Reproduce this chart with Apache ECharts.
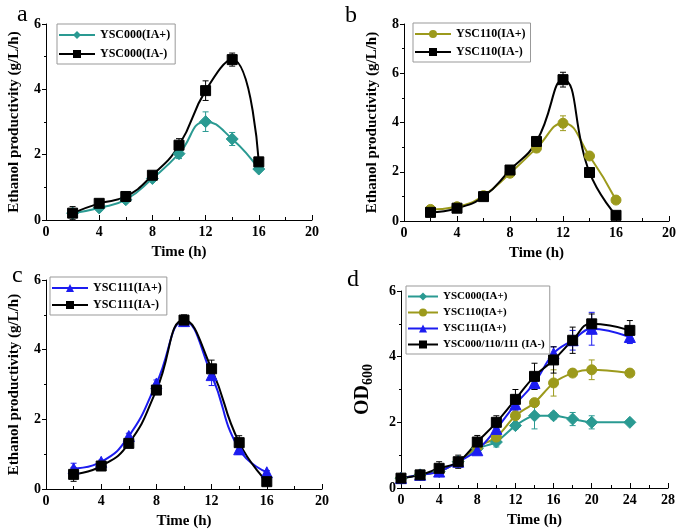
<!DOCTYPE html>
<html><head><meta charset="utf-8">
<script src="https://cdn.jsdelivr.net/npm/echarts@6/dist/echarts.min.js"></script>
<style>html,body{margin:0;padding:0;background:#fff}#c{width:685px;height:531px}</style>
</head><body><div id="c"></div>
<script>
// ---- data ----
const timeABC = [2, 4, 6, 8, 10, 12, 14, 16];
const timeD = [0, 2, 4, 6, 8, 10, 12, 14, 16, 18, 20, 24];

const a_ysc000_p = [0.21, 0.37, 0.62, 1.27, 2.03, 3.01, 2.48, 1.56];
const a_ysc000_p_err = [0.1, 0.05, 0.05, 0.08, 0.15, 0.3, 0.2, 0.05];
const a_ysc000_m = [0.21, 0.51, 0.72, 1.37, 2.29, 3.96, 4.91, 1.78];
const a_ysc000_m_err = [0.2, 0.05, 0.05, 0.08, 0.2, 0.3, 0.2, 0.05];

const b_ysc110_p = [0.47, 0.58, 1.03, 1.94, 2.96, 3.97, 2.64, 0.85];
const b_ysc110_p_err = [0.1, 0.05, 0.08, 0.1, 0.15, 0.3, 0.1, 0.05];
const b_ysc110_m = [0.35, 0.52, 0.99, 2.07, 3.23, 5.74, 1.97, 0.23];
const b_ysc110_m_err = [0.1, 0.05, 0.08, 0.1, 0.15, 0.3, 0.1, 0.05];

const c_ysc111_p = [0.59, 0.78, 1.52, 3.03, 4.82, 3.27, 1.14, 0.48];
const c_ysc111_p_err = [0.15, 0.05, 0.08, 0.1, 0.15, 0.3, 0.15, 0.05];
const c_ysc111_m = [0.42, 0.66, 1.31, 2.84, 4.85, 3.45, 1.33, 0.21];
const c_ysc111_m_err = [0.2, 0.05, 0.08, 0.1, 0.15, 0.25, 0.2, 0.05];

const d_ysc000_p = [0.3, 0.4, 0.5, 0.8, 1.2, 1.4, 1.9, 2.2, 2.2, 2.1, 2.0, 2.0];
const d_ysc000_p_err = [0.05, 0.05, 0.1, 0.1, 0.1, 0.15, 0.1, 0.4, 0.1, 0.2, 0.2, 0.05];
const d_ysc110_p = [0.3, 0.4, 0.5, 0.8, 1.25, 1.55, 2.2, 2.6, 3.2, 3.5, 3.6, 3.5];
const d_ysc110_p_err = [0.05, 0.05, 0.1, 0.1, 0.1, 0.15, 0.1, 0.1, 0.4, 0.1, 0.3, 0.05];
const d_ysc111_p = [0.3, 0.4, 0.5, 0.8, 1.15, 1.8, 2.55, 3.2, 4.1, 4.5, 4.85, 4.6];
const d_ysc111_p_err = [0.05, 0.1, 0.1, 0.1, 0.1, 0.15, 0.2, 0.2, 0.2, 0.3, 0.5, 0.2];
const d_all_m = [0.3, 0.4, 0.6, 0.8, 1.4, 2.0, 2.7, 3.4, 3.9, 4.5, 5.0, 4.8];
const d_all_m_err = [0.05, 0.05, 0.2, 0.2, 0.2, 0.2, 0.3, 0.4, 0.4, 0.4, 0.3, 0.3];

const xTicksABC = {min: 0, max: 20, interval: 4};
const xTicksD = {min: 0, max: 28, interval: 4};
// ---- style ----
const TEAL = '#2a9a92', OLIVE = '#9c9a1c', BLUE = '#1c1cf0', BLACK = '#000';
const FONT = '"Liberation Serif", "Times New Roman", serif';

const grids = [
  {left: 46, top: 24, width: 266, height: 196},
  {left: 404, top: 24, width: 265, height: 197},
  {left: 46, top: 280, width: 276, height: 209},
  {left: 401, top: 291, width: 267, height: 197}
];

function xAxis(gi, t) {
  return {
    type: 'value', gridIndex: gi, min: t.min, max: t.max, interval: t.interval,
    name: 'Time (h)', nameLocation: 'middle', nameGap: 25,
    nameTextStyle: {fontFamily: FONT, fontWeight: 'bold', fontSize: 15, color: '#000'},
    axisLine: {lineStyle: {color: '#000', width: 1}},
    axisTick: {inside: true, length: 5, lineStyle: {color: '#000'}},
    minorTick: {show: true, splitNumber: 2, length: 3, lineStyle: {color: '#000'}},
    axisLabel: {fontFamily: FONT, fontWeight: 'bold', fontSize: 14, color: '#000', margin: 5},
    splitLine: {show: false}
  };
}
function yAxis(gi, max, interval, name, gap) {
  return {
    type: 'value', gridIndex: gi, min: 0, max: max, interval: interval,
    name: name, nameLocation: 'middle', nameGap: gap || 24,
    nameTextStyle: {fontFamily: FONT, fontWeight: 'bold', fontSize: 15, color: '#000',
      rich: {sub: {fontFamily: FONT, fontWeight: 'bold', fontSize: 14, padding: [10, 0, 0, 0]},
             b: {fontFamily: FONT, fontWeight: 'bold', fontSize: 20}}},
    axisLine: {show: true, lineStyle: {color: '#000', width: 1}},
    axisTick: {inside: false, length: 4, lineStyle: {color: '#000'}},
    minorTick: {show: true, splitNumber: 2, length: 2, lineStyle: {color: '#000'}},
    axisLabel: {fontFamily: FONT, fontWeight: 'bold', fontSize: 14, color: '#000', margin: 5},
    splitLine: {show: false}
  };
}

const series = [];
function addSeries(gi, name, xs, ys, errs, color, symbol, size, smooth) {
  series.push({
    type: 'line', name: name, xAxisIndex: gi, yAxisIndex: gi,
    data: xs.map((x, i) => [x, ys[i]]),
    smooth: smooth, symbol: symbol, symbolSize: size, showSymbol: true,
    lineStyle: {color: color, width: 2}, itemStyle: {color: color, borderColor: color},
    z: 3
  });
  series.push({
    type: 'custom', name: name + ' err', xAxisIndex: gi, yAxisIndex: gi,
    data: xs.map((x, i) => [x, ys[i], errs[i]]),
    z: 2, silent: true,
    renderItem: function (params, api) {
      const x = api.value(0), y = api.value(1), e = api.value(2);
      const top = api.coord([x, y + e]);
      const bot = api.coord([x, y - e]);
      const w = 3;
      const st = {stroke: color, lineWidth: 1};
      return {type: 'group', children: [
        {type: 'line', shape: {x1: top[0], y1: top[1], x2: bot[0], y2: bot[1]}, style: st},
        {type: 'line', shape: {x1: top[0] - w, y1: top[1], x2: top[0] + w, y2: top[1]}, style: st},
        {type: 'line', shape: {x1: bot[0] - w, y1: bot[1], x2: bot[0] + w, y2: bot[1]}, style: st}
      ]};
    }
  });
}

addSeries(0, 'YSC000(IA+)', timeABC, a_ysc000_p, a_ysc000_p_err, TEAL, 'diamond', 12, true);
addSeries(0, 'YSC000(IA-)', timeABC, a_ysc000_m, a_ysc000_m_err, BLACK, 'rect', 10, true);
addSeries(1, 'YSC110(IA+)', timeABC, b_ysc110_p, b_ysc110_p_err, OLIVE, 'circle', 10, true);
addSeries(1, 'YSC110(IA-)', timeABC, b_ysc110_m, b_ysc110_m_err, BLACK, 'rect', 10, true);
addSeries(2, 'YSC111(IA+)', timeABC, c_ysc111_p, c_ysc111_p_err, BLUE, 'triangle', 11, true);
addSeries(2, 'YSC111(IA-)', timeABC, c_ysc111_m, c_ysc111_m_err, BLACK, 'rect', 10, true);
addSeries(3, 'YSC000(IA+) ', timeD, d_ysc000_p, d_ysc000_p_err, TEAL, 'diamond', 12, 0.2);
addSeries(3, 'YSC110(IA+) ', timeD, d_ysc110_p, d_ysc110_p_err, OLIVE, 'circle', 10, 0.3);
addSeries(3, 'YSC111(IA+) ', timeD, d_ysc111_p, d_ysc111_p_err, BLUE, 'triangle', 11, 0.4);
addSeries(3, 'YSC000/110/111 (IA-)', timeD, d_all_m, d_all_m_err, BLACK, 'rect', 10, true);

function legend(names, left, top, fs, gap, iw) {
  return {
    data: names, left: left, top: top, orient: 'vertical',
    itemWidth: iw || 36, itemHeight: 10, itemGap: gap, padding: [5, 5, 4, 1],
    borderColor: '#999', borderWidth: 1, selectedMode: false, z: 10,
    backgroundColor: 'rgba(255,255,255,0)',
    textStyle: {fontFamily: FONT, fontWeight: 'bold', fontSize: fs, color: '#000'},
    formatter: n => n.trim()
  };
}

const option = {
  backgroundColor: '#fff',
  animation: false,
  grid: grids,
  xAxis: [xAxis(0, xTicksABC), xAxis(1, xTicksABC), xAxis(2, xTicksABC), xAxis(3, xTicksD)],
  yAxis: [
    yAxis(0, 6, 2, 'Ethanol productivity (g/L/h)'),
    yAxis(1, 8, 2, 'Ethanol productivity (g/L/h)'),
    yAxis(2, 6, 2, 'Ethanol productivity (g/L/h)'),
    yAxis(3, 6, 2, '{b|OD}{sub|600}', 26)
  ],
  legend: [
    legend(['YSC000(IA+)', 'YSC000(IA-)'], 57, 24, 12, 7),
    legend(['YSC110(IA+)', 'YSC110(IA-)'], 413, 23, 12, 6),
    legend(['YSC111(IA+)', 'YSC111(IA-)'], 50, 277, 12, 5),
    legend(['YSC000(IA+) ', 'YSC110(IA+) ', 'YSC111(IA+) ', 'YSC000/110/111 (IA-)'], 406, 286, 11, 5, 30)
  ],
  graphic: [
    {type: 'text', left: 17, top: 3, style: {text: 'a', font: '24px ' + FONT, fill: '#000'}},
    {type: 'text', left: 345, top: 4, style: {text: 'b', font: '24px ' + FONT, fill: '#000'}},
    {type: 'text', left: 12, top: 264, style: {text: 'c', font: '24px ' + FONT, fill: '#000'}},
    {type: 'text', left: 347, top: 268, style: {text: 'd', font: '24px ' + FONT, fill: '#000'}}
  ],
  series: series
};
const chart = echarts.init(document.getElementById('c'), null, {renderer: 'canvas'});
chart.setOption(option);
</script></body></html>
